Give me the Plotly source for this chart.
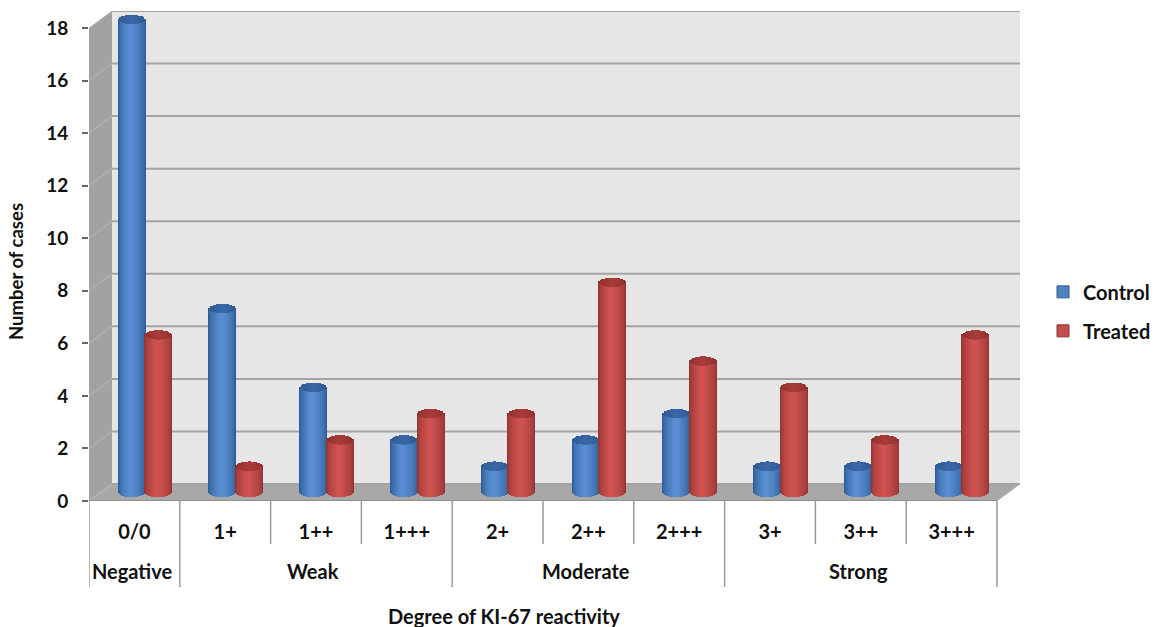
import numpy as np
import plotly.graph_objects as go

categories = ["0/0", "1+", "1++", "1+++", "2+", "2++", "2+++", "3+", "3++", "3+++"]
groups = ["Negative", "Weak", "Moderate", "Strong"]
group_spans = [(0, 1), (1, 4), (4, 7), (7, 10)]
control = [18, 7, 4, 2, 1, 2, 3, 1, 1, 1]
treated = [6, 1, 2, 3, 3, 8, 5, 4, 2, 6]
y_ticks = list(range(0, 20, 2))

# pixel geometry converted to axis units
PX_X = 90.8
PX_Y = 26.28
DX = 23 / PX_X       # depth offset of the back wall
DY = 17 / PX_Y
XMAX = 10 + DX
YMAX = 18 + DY
BAR_A = 14 / PX_X    # cylinder half width
BAR_B = 4.8 / PX_Y   # cylinder ellipse half height
BASE = DY / 2
GAP = 13.3 / PX_X    # centre offset of the bars from the group centre
PLOT_H = 490
PLOT_W = 931

BODY_STEPS = 14
CAP_STEPS = 9


def lerp(c1, c2, t):
    return "rgb(%d,%d,%d)" % tuple(round(a + (b - a) * t) for a, b in zip(c1, c2))


def add_cylinders(fig, values, offset, edge, centre, cap_edge, cap_centre):
    vals = np.array(values, dtype=float)
    pos = np.arange(len(vals)) + 0.49 + DX / 2 + offset
    for k in range(BODY_STEPS):
        f = 1 - k / BODY_STEPS
        s = np.sqrt(1 - f ** 2)
        base = BASE - BAR_B * s
        top = vals + BASE
        fig.add_trace(go.Bar(
            x=pos - 0.08 * BAR_A * (1 - f), y=top - base, base=base,
            width=2 * BAR_A * f, showlegend=False, hoverinfo="skip",
            marker=dict(color=lerp(edge, centre, (1 - f) ** 0.6), line=dict(width=0)),
        ))
    for k in range(CAP_STEPS):
        f = 1 - k / CAP_STEPS
        s = np.sqrt(1 - f ** 2) if k else 0.18
        top = vals + BASE
        fig.add_trace(go.Bar(
            x=pos, y=np.full(len(vals), 2 * BAR_B * s), base=top - BAR_B * s,
            width=2 * BAR_A * f, showlegend=False, hoverinfo="skip",
            marker=dict(color=lerp(cap_edge, cap_centre, k / CAP_STEPS), line=dict(width=0)),
        ))


fig = go.Figure()
add_cylinders(fig, control, -GAP, (46, 92, 150), (92, 146, 214), (48, 90, 148), (58, 106, 170))
add_cylinders(fig, treated, GAP, (146, 52, 50), (212, 84, 82), (146, 48, 46), (172, 62, 60))

fig.add_trace(go.Bar(x=[None], y=[None], name="Control",
                     marker=dict(color="#4f81bd", line=dict(color="#2f5c96", width=1)),
                     legendgroup="c"))
fig.add_trace(go.Bar(x=[None], y=[None], name="Treated",
                     marker=dict(color="#c0504d", line=dict(color="#8c302e", width=1)),
                     legendgroup="t"))

shapes = []
GRID = "#a3a3a3"
shapes.append(dict(type="rect", xref="x", yref="y", x0=DX, x1=XMAX, y0=DY, y1=YMAX,
                   fillcolor="#e6e6e6", line=dict(width=0), layer="below"))
shapes.append(dict(type="path", xref="x", yref="y", layer="below", fillcolor="#a2a2a2",
                   line=dict(width=0),
                   path=f"M0,0 L{DX},{DY} L{DX},{YMAX} L0,18 Z"))
shapes.append(dict(type="path", xref="x", yref="y", layer="below", fillcolor="#a8a8a8",
                   line=dict(width=0),
                   path=f"M0,0 L10,0 L{XMAX},{DY} L{DX},{DY} Z"))
for v in y_ticks:
    shapes.append(dict(type="line", xref="x", yref="y", x0=DX, x1=XMAX, y0=v + DY, y1=v + DY,
                       line=dict(color=GRID, width=2), layer="below"))
    shapes.append(dict(type="line", xref="x", yref="y", x0=0, x1=DX, y0=v, y1=v + DY,
                       line=dict(color="#b8b8b8", width=1), layer="below"))
shapes.append(dict(type="line", xref="x", yref="y", x0=0, x1=10, y0=0, y1=0,
                   line=dict(color="#8f8f8f", width=2), layer="above"))
shapes.append(dict(type="line", xref="x", yref="y", x0=10, x1=XMAX, y0=0, y1=DY,
                   line=dict(color="#bdbdbd", width=1), layer="below"))

long_ticks = {a for span in group_spans for a in span}
for i in range(len(categories) + 1):
    py = 86 if i in long_ticks else 43
    shapes.append(dict(type="line", xref="x", yref="paper", x0=i, x1=i, y0=0, y1=-py / PLOT_H,
                       line=dict(color="#9a9a9a", width=1.5)))

TXT = dict(family="Lato", color="#111111", weight=700)
annotations = [
    dict(text=g, x=(a + b) / 2 - 0.03, y=-84 / PLOT_H,
         xref="x", yref="paper", showarrow=False, font=dict(size=20, **TXT))
    for g, (a, b) in zip(groups, group_spans)
]
# axis titles sit off-centre in the reference, so they are placed explicitly
annotations.append(dict(text="Degree of KI-67 reactivity", x=(504 - 89) / PX_X, y=-129 / PLOT_H,
                        xref="x", yref="paper", showarrow=False, font=dict(size=20, **TXT)))
annotations.append(dict(text="Number of cases", x=-86 / PLOT_W, y=(493 - 264) / PLOT_H,
                        xref="paper", yref="paper", showarrow=False, textangle=-90,
                        font=dict(size=18.5, **TXT)))

fig.update_layout(
    width=1158, height=627, autosize=False,
    paper_bgcolor="white", plot_bgcolor="white",
    margin=dict(l=89, r=138, t=11, b=126, autoexpand=False),
    barmode="overlay", bargap=0,
    shapes=shapes, annotations=annotations,
    font=dict(family="Lato", color="#111111"),
    legend=dict(x=(1043 - 89) / PLOT_W, xanchor="left", y=0.387, yanchor="middle",
                font=dict(size=20, **TXT), tracegroupgap=10, bgcolor="rgba(0,0,0,0)"),
    xaxis=dict(range=[0, XMAX], tickmode="array",
               tickvals=[i + 0.5 for i in range(len(categories))], ticktext=categories,
               showgrid=False, zeroline=False, showline=False, ticks="",
               ticklabelstandoff=17, tickfont=dict(size=20, **TXT)),
    yaxis=dict(range=[0, YMAX], tickmode="array", tickvals=y_ticks,
               showgrid=False, zeroline=False, showline=False,
               ticks="outside", ticklen=6, tickcolor="#666666", tickwidth=2,
               ticklabelstandoff=10, tickfont=dict(size=19, **TXT)),
)

fig.write_html("out.html", config=dict(displayModeBar=False),
               post_script="document.body.style.margin='0';")
